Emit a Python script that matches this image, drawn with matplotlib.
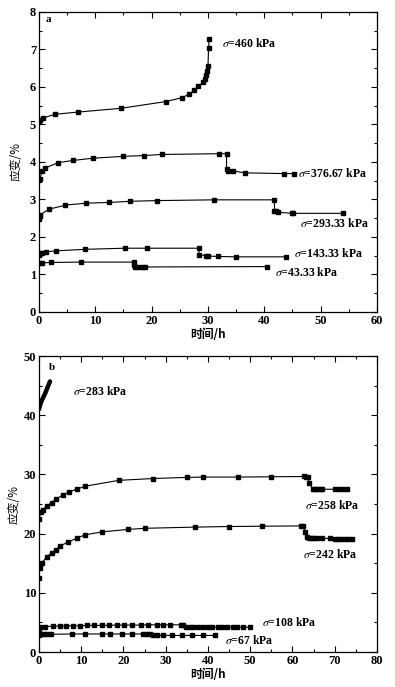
import matplotlib
matplotlib.use('Agg')
import matplotlib.pyplot as plt
from matplotlib.ticker import MultipleLocator

plt.rcParams['mathtext.fontset'] = 'stix'
plt.rcParams['font.family'] = ['Liberation Serif', 'DejaVu Serif']

# ---- panel a data (time h, strain %)
a460_t = [0, 0.2, 0.7, 2.8, 6.9, 14.5, 22.5, 25.3, 26.6, 27.6, 28.3, 29.2, 29.5, 29.7, 29.9, 30.0, 30.1, 30.2]
a460_s = [5.08, 5.13, 5.17, 5.27, 5.33, 5.43, 5.61, 5.71, 5.80, 5.92, 6.02, 6.12, 6.20, 6.32, 6.43, 6.55, 7.03, 7.27]

a376_t = [0, 0.1, 0.6, 1.1, 3.4, 6.0, 9.6, 15.0, 18.6, 21.8, 31.9, 33.3, 33.3, 33.5, 34.5, 36.5, 43.5, 45.3]
a376_s = [3.52, 3.55, 3.75, 3.84, 3.98, 4.04, 4.10, 4.15, 4.17, 4.20, 4.22, 4.22, 3.82, 3.77, 3.76, 3.71, 3.69, 3.69]

a293_t = [0, 0.1, 0.2, 1.8, 4.7, 8.3, 12.4, 16.1, 20.9, 31.1, 41.8, 41.8, 42.1, 42.5, 44.9, 45.1, 54.0]
a293_s = [2.48, 2.56, 2.59, 2.74, 2.85, 2.90, 2.92, 2.95, 2.97, 2.99, 2.99, 2.70, 2.69, 2.66, 2.63, 2.63, 2.63]

a143_t = [0, 0.2, 0.5, 1.2, 3.0, 8.1, 15.2, 19.2, 28.4, 28.4, 29.6, 30.0, 31.8, 35.0, 43.8]
a143_s = [1.53, 1.56, 1.58, 1.60, 1.63, 1.67, 1.70, 1.70, 1.70, 1.53, 1.50, 1.49, 1.48, 1.47, 1.47]

a43_t = [0, 0.6, 2.2, 7.4, 16.9, 16.9, 17.1, 17.5, 18.2, 18.9, 40.4]
a43_s = [1.31, 1.31, 1.32, 1.33, 1.33, 1.24, 1.21, 1.20, 1.20, 1.20, 1.21]

# ---- panel b data
b283_t = [0, 0.3, 0.6, 1.0, 1.4, 1.8, 2.2, 2.6]
b283_s = [41.0, 41.8, 42.4, 43.0, 43.6, 44.3, 45.0, 45.7]

b258_t = [0, 0.4, 0.9, 1.8, 3.0, 4.0, 5.8, 7.0, 8.9, 10.9, 18.9, 26.9, 35.0, 38.9, 47.0, 55.0,
          62.7, 63.2, 63.7, 64.0, 64.8, 65.3, 65.9, 66.4, 67.0, 70.1, 71.0, 72.0, 73.0]
b258_s = [22.4, 23.6, 24.0, 24.7, 25.2, 25.8, 26.6, 27.0, 27.5, 28.0, 29.0, 29.3, 29.5, 29.55, 29.55, 29.6,
          29.65, 29.6, 29.6, 28.6, 27.5, 27.5, 27.5, 27.5, 27.5, 27.5, 27.5, 27.5, 27.5]

b242_t = [0, 0.2, 0.6, 1.8, 3.0, 4.0, 5.0, 6.9, 8.9, 10.9, 15.0, 21.0, 25.0, 37.0, 44.9, 52.9,
          61.9, 62.6, 63.0, 63.5, 64.0, 64.5, 65.1, 65.7, 67.1, 68.9, 70.0, 70.8, 71.6, 72.4, 73.2, 74.0]
b242_s = [12.5, 14.2, 15.0, 16.0, 16.8, 17.3, 17.9, 18.6, 19.2, 19.8, 20.3, 20.7, 20.9, 21.1, 21.2, 21.25,
          21.3, 21.3, 20.3, 19.5, 19.3, 19.3, 19.3, 19.3, 19.2, 19.2, 19.1, 19.1, 19.1, 19.1, 19.1, 19.1]

b108_t = [0, 0.3, 1.4, 3.4, 5.0, 6.5, 8.1, 9.7, 11.3, 13.1, 14.8, 16.6, 18.4, 20.2, 21.9, 24.1,
          25.9, 27.9, 29.4, 31.0, 33.6, 34.2, 34.7, 35.7, 36.5, 37.7, 38.9, 39.9, 40.9, 42.3, 43.2,
          44.4, 46.0, 46.8, 48.4, 50.0]
b108_s = [3.8, 4.2, 4.3, 4.35, 4.4, 4.4, 4.45, 4.45, 4.5, 4.5, 4.5, 4.5, 4.55, 4.55, 4.55, 4.55,
          4.6, 4.6, 4.6, 4.6, 4.6, 4.6, 4.3, 4.2, 4.2, 4.2, 4.2, 4.2, 4.2, 4.2, 4.2,
          4.2, 4.2, 4.2, 4.2, 4.2]

b67_t = [0, 0.3, 1.1, 1.9, 2.9, 7.7, 10.9, 14.8, 16.8, 19.7, 21.9, 24.7, 25.5, 26.3, 27.0,
         27.9, 29.4, 31.4, 33.8, 36.1, 38.9, 41.7]
b67_s = [2.9, 3.0, 3.0, 3.0, 3.0, 3.05, 3.05, 3.05, 3.05, 3.05, 3.05, 3.05, 3.05, 3.05, 2.95,
         2.85, 2.8, 2.8, 2.8, 2.8, 2.8, 2.8]

cjk = ['Noto Sans CJK SC', 'DejaVu Sans']


def style(ax, xmax, xmaj, ymax, ymaj, ypad):
    ax.set_xlim(0, xmax)
    ax.set_ylim(0, ymax)
    ax.xaxis.set_major_locator(MultipleLocator(xmaj))
    ax.xaxis.set_minor_locator(MultipleLocator(xmaj / 2))
    ax.yaxis.set_major_locator(MultipleLocator(ymaj))
    ax.yaxis.set_minor_locator(MultipleLocator(ymaj / 2))
    ax.tick_params(which='both', direction='in', top=True, right=True, width=0.8)
    ax.tick_params(which='major', length=4, pad=2)
    ax.tick_params(which='minor', length=2)
    for lab in ax.get_xticklabels() + ax.get_yticklabels():
        lab.set_fontfamily('Liberation Serif')
        lab.set_fontweight('bold')
        lab.set_fontsize(9)
    for sp in ax.spines.values():
        sp.set_linewidth(0.9)
    ax.set_xlabel('时间/h', family=cjk, fontsize=8.5, fontweight='bold', labelpad=1)
    ax.set_ylabel('应变/%', family=cjk, fontsize=8.5, labelpad=ypad)


def curve(ax, t, s):
    ax.plot(t, s, color='black', lw=0.8, marker='s', ms=2.3)


def label(ax, x, y, txt):
    ax.text(x, y, r'$\sigma$' + txt, fontsize=8.5, fontweight='bold',
            family='Liberation Serif', va='center')


fig = plt.figure(figsize=(3.95, 6.87), dpi=100)

ax1 = fig.add_axes([0.0987, 0.5459, 0.8557, 0.4367])
curve(ax1, a460_t, a460_s)
curve(ax1, a376_t, a376_s)
curve(ax1, a293_t, a293_s)
curve(ax1, a143_t, a143_s)
curve(ax1, a43_t, a43_s)
style(ax1, 60, 10, 8, 1, 5)
ax1.text(1.2, 7.8, 'a', fontsize=8, fontweight='bold', va='center')
label(ax1, 32.5, 7.15, '=460 kPa')
label(ax1, 46.0, 3.68, '=376.67 kPa')
label(ax1, 46.3, 2.37, '=293.33 kPa')
label(ax1, 45.3, 1.57, '=143.33 kPa')
label(ax1, 41.9, 1.04, '=43.33 kPa')

ax2 = fig.add_axes([0.0987, 0.0509, 0.8557, 0.4309])
ax2.plot(b283_t, b283_s, color='black', lw=3.2, solid_capstyle='round')
curve(ax2, b258_t, b258_s)
curve(ax2, b242_t, b242_s)
curve(ax2, b108_t, b108_s)
curve(ax2, b67_t, b67_s)
style(ax2, 80, 10, 50, 10, 2)
ax2.text(2.4, 48, 'b', fontsize=8, fontweight='bold', va='center')
label(ax2, 8.0, 44.0, '=283 kPa')
label(ax2, 63.0, 24.8, '=258 kPa')
label(ax2, 62.5, 16.5, '=242 kPa')
label(ax2, 52.7, 4.95, '=108 kPa')
label(ax2, 44.0, 2.0, '=67 kPa')

fig.savefig('out.png', dpi=100)
